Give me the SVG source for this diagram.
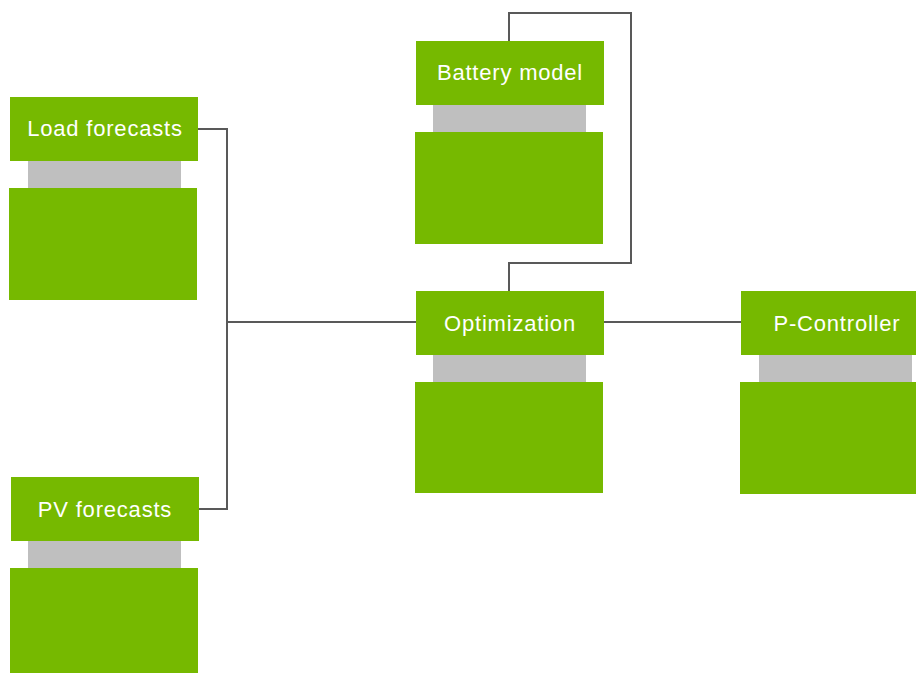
<svg xmlns="http://www.w3.org/2000/svg" width="916" height="673" viewBox="0 0 916 673">
<style>
.hdr{fill:#76B900}
.gap{fill:#BFBFBF}
.body{fill:#76B900}
.lbl{fill:#FFFFFF;font-family:"Liberation Sans",Arial,sans-serif;font-size:22px;letter-spacing:0.8px;text-anchor:middle}
.conn{fill:none;stroke:#595959;stroke-width:2}
</style>
<rect width="916" height="673" fill="#FFFFFF"/>
<g id="connectors">
<polyline class="conn" points="198,129 227,129 227,509 199,509"/>
<line class="conn" x1="227" y1="322" x2="416" y2="322"/>
<line class="conn" x1="604" y1="322" x2="741" y2="322"/>
<polyline class="conn" points="509,41 509,13 631,13 631,263 509,263 509,291"/>
</g>
<g id="load-forecasts">
<rect class="hdr" x="10" y="97" width="188" height="64"/>
<rect class="gap" x="28" y="161" width="153" height="27"/>
<rect class="body" x="9" y="188" width="188" height="112"/>
<text class="lbl" x="105" y="136">Load forecasts</text>
</g>
<g id="battery-model">
<rect class="hdr" x="416" y="41" width="188" height="64"/>
<rect class="gap" x="433" y="105" width="153" height="27"/>
<rect class="body" x="415" y="132" width="188" height="112"/>
<text class="lbl" x="510" y="80">Battery model</text>
</g>
<g id="optimization">
<rect class="hdr" x="416" y="291" width="188" height="64"/>
<rect class="gap" x="433" y="355" width="153" height="27"/>
<rect class="body" x="415" y="382" width="188" height="111"/>
<text class="lbl" x="510" y="331">Optimization</text>
</g>
<g id="p-controller">
<rect class="hdr" x="741" y="291" width="188" height="64"/>
<rect class="gap" x="759" y="355" width="153" height="27"/>
<rect class="body" x="740" y="382" width="188" height="112"/>
<text class="lbl" x="837" y="331">P-Controller</text>
</g>
<g id="pv-forecasts">
<rect class="hdr" x="11" y="477" width="188" height="64"/>
<rect class="gap" x="28" y="541" width="153" height="27"/>
<rect class="body" x="10" y="568" width="188" height="110"/>
<text class="lbl" x="105" y="517">PV forecasts</text>
</g>
</svg>
